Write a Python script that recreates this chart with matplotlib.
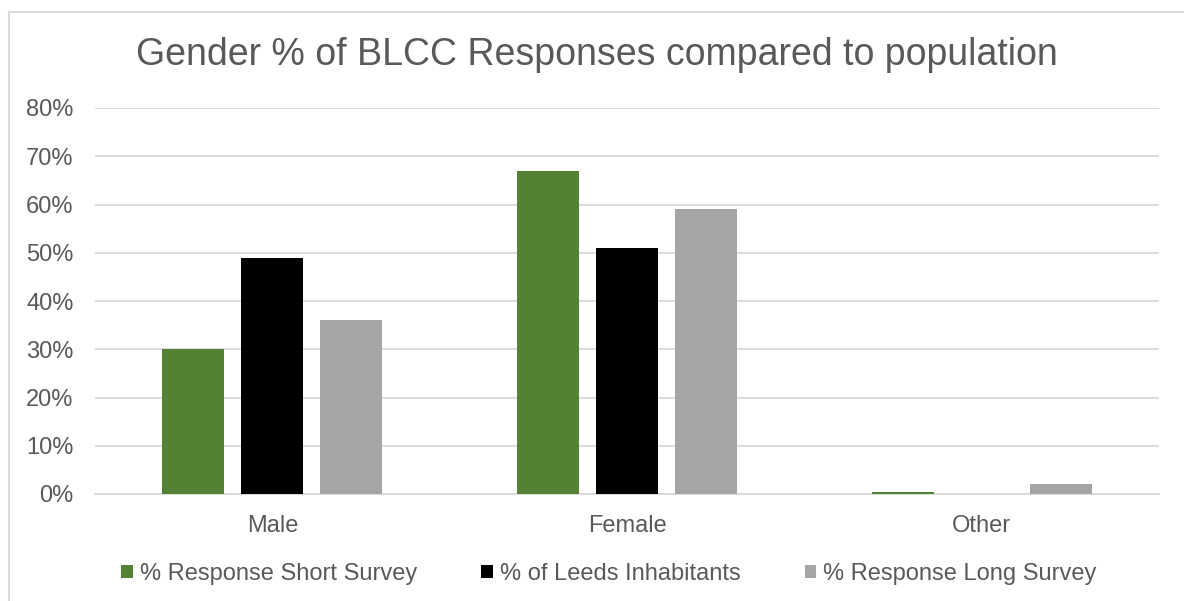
import matplotlib.pyplot as plt
import numpy as np
from matplotlib.patches import Rectangle

plt.rcParams['font.family'] = ['Liberation Sans', 'DejaVu Sans']

categories = ['Male', 'Female', 'Other']
short_survey = [30, 67, 0.5]
leeds_pop = [49, 51, 0]
long_survey = [36, 59, 2]
series_names = ['% Response Short Survey', '% of Leeds Inhabitants', '% Response Long Survey']
colors = ['#548235', '#000000', '#A5A5A5']
yticks = [0, 10, 20, 30, 40, 50, 60, 70, 80]

txt = '#595959'

fig = plt.figure(figsize=(11.84, 6.01), dpi=100)
ax = fig.add_axes([95 / 1184, 1 - 494 / 601, (1159 - 95) / 1184, (494 - 108) / 601])

# chart frame (light grey border)
fig.patches.append(Rectangle((8.5 / 1184, -0.1), 1.2, 1 - 11.5 / 601 + 0.1,
                             transform=fig.transFigure, fill=False,
                             edgecolor='#D9D9D9', linewidth=1.5))

x = np.arange(len(categories))
w = 0.175
offs = [-0.2225, 0, 0.2225]
for vals, off, c, name in zip([short_survey, leeds_pop, long_survey], offs, colors, series_names):
    ax.bar(x + off, vals, width=w, color=c, label=name, zorder=3)

ax.set_xlim(-0.5, 2.5)
ax.set_ylim(0, 80)
ax.set_yticks(yticks)
ax.set_yticklabels([f'{v}%' for v in yticks])
ax.set_xticks(x)
ax.set_xticklabels(categories)
ax.grid(axis='y', color='#D9D9D9', linewidth=1.3, zorder=0)
for s in ['top', 'right', 'left']:
    ax.spines[s].set_visible(False)
ax.spines['bottom'].set_color('#D9D9D9')
ax.spines['bottom'].set_linewidth(1.3)
ax.tick_params(axis='both', length=0, labelsize=17, colors=txt)
ax.tick_params(axis='y', pad=15.5)
ax.tick_params(axis='x', pad=15)

fig.text(597 / 1184, 1 - 55 / 601, 'Gender % of BLCC Responses compared to population',
         ha='center', va='center', fontsize=27, color=txt)

leg = fig.legend(loc='center', bbox_to_anchor=(609 / 1184, 1 - 574 / 601), ncol=3,
                 frameon=False, fontsize=17, handlelength=0.5, handleheight=0.5,
                 handletextpad=0.3, columnspacing=2.7)
for t in leg.get_texts():
    t.set_color(txt)

fig.savefig('out.png', dpi=100)
